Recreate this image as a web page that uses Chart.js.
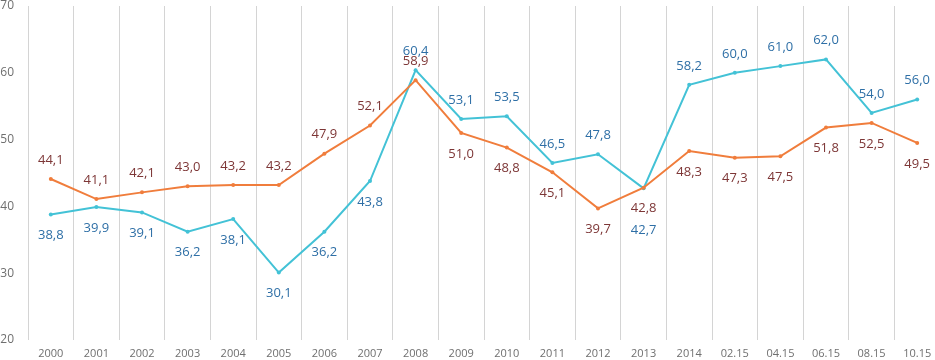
<!DOCTYPE html>
<html>
<head>
<meta charset="utf-8">
<script src="https://cdn.jsdelivr.net/npm/chart.js@4.4.1/dist/chart.umd.min.js"></script>
<style>
    html, body { margin: 0; padding: 0; background: #ffffff; overflow: hidden; }
    #wrap { width: 944px; height: 360px; position: relative; }
</style>
</head>
<body>
<div id="wrap"><canvas id="lineChart"></canvas></div>
<script>
// ==========================================
// Data
// ==========================================

const categories = ['2000', '2001', '2002', '2003', '2004', '2005', '2006', '2007', '2008', '2009',
    '2010', '2011', '2012', '2013', '2014', '02.15', '04.15', '06.15', '08.15', '10.15'];

const orangeValues = [44.1, 41.1, 42.1, 43.0, 43.2, 43.2, 47.9, 52.1, 58.9, 51.0,
    48.8, 45.1, 39.7, 42.8, 48.3, 47.3, 47.5, 51.8, 52.5, 49.5];

const cyanValues = [38.8, 39.9, 39.1, 36.2, 38.1, 30.1, 36.2, 43.8, 60.4, 53.1,
    53.5, 46.5, 47.8, 42.7, 58.2, 60.0, 61.0, 62.0, 54.0, 56.0];

const yTicks = [20, 30, 40, 50, 60, 70];

// label placement: a = above, b = below, bb = further below
const orangePlace = ['a', 'a', 'a', 'a', 'a', 'a', 'a', 'a', 'a', 'b',
    'b', 'b', 'b', 'b', 'b', 'b', 'b', 'b', 'b', 'b'];
const cyanPlace = ['b', 'b', 'b', 'b', 'b', 'b', 'b', 'b', 'a', 'a',
    'a', 'a', 'a', 'bb', 'a', 'a', 'a', 'a', 'a', 'a'];

// ==========================================
// Value labels plugin
// ==========================================

const placeOffset = { a: -19, b: 21, bb: 42 };

const valueLabelPlugin = {
    id: 'valueLabels',
    afterDatasetsDraw(chart) {
        const ctx = chart.ctx;
        ctx.save();
        ctx.font = '13px "Open Sans", sans-serif';
        ctx.textAlign = 'center';
        ctx.textBaseline = 'middle';
        chart.data.datasets.forEach(function (ds, di) {
            const meta = chart.getDatasetMeta(di);
            meta.data.forEach(function (pt, i) {
                const off = placeOffset[ds.labelPlace[i]];
                ctx.fillStyle = ds.labelColor;
                ctx.fillText(ds.data[i].toFixed(1).replace('.', ','), pt.x, pt.y + off);
            });
        });
        ctx.restore();
    }
};

// ==========================================
// Chart
// ==========================================

function createChart() {
    const ctx = document.getElementById('lineChart').getContext('2d');
    new Chart(ctx, {
        type: 'line',
        data: {
            labels: categories,
            datasets: [
                {
                    data: orangeValues,
                    borderColor: '#f07d3c',
                    backgroundColor: '#f07d3c',
                    borderWidth: 2,
                    pointRadius: 2,
                    pointBorderWidth: 0,
                    tension: 0,
                    labelColor: '#7d3636',
                    labelPlace: orangePlace
                },
                {
                    data: cyanValues,
                    borderColor: '#43c2d6',
                    backgroundColor: '#43c2d6',
                    borderWidth: 2,
                    pointRadius: 2,
                    pointBorderWidth: 0,
                    tension: 0,
                    labelColor: '#2e6fa6',
                    labelPlace: cyanPlace
                }
            ]
        },
        options: {
            responsive: true,
            maintainAspectRatio: false,
            animation: false,
            layout: { padding: { top: 6, right: 0, left: 0, bottom: 0 } },
            plugins: {
                legend: { display: false },
                tooltip: { enabled: false }
            },
            scales: {
                x: {
                    type: 'category',
                    offset: true,
                    grid: {
                        offset: true,
                        color: '#d4d4d4',
                        lineWidth: 1,
                        drawTicks: false
                    },
                    border: { display: false },
                    afterFit: function (axis) {
                        axis.height = 20;
                        axis.paddingLeft = 0;
                        axis.paddingRight = 0;
                    },
                    ticks: {
                        color: '#6f6f6f',
                        font: { family: '"Open Sans", sans-serif', size: 11 },
                        padding: 7,
                        maxRotation: 0,
                        autoSkip: false
                    }
                },
                y: {
                    min: 20,
                    max: 70,
                    afterBuildTicks: function (axis) {
                        axis.ticks = yTicks.map(function (v) { return { value: v }; });
                    },
                    afterFit: function (axis) {
                        axis.width = 28;
                        axis.paddingTop = 0;
                        axis.paddingBottom = 0;
                    },
                    grid: { display: false, drawTicks: false },
                    border: { display: false },
                    ticks: {
                        color: '#6f6f6f',
                        font: { family: '"Open Sans", sans-serif', size: 12 },
                        padding: 14
                    }
                }
            }
        },
        plugins: [valueLabelPlugin]
    });
}

createChart();
</script>
</body>
</html>
